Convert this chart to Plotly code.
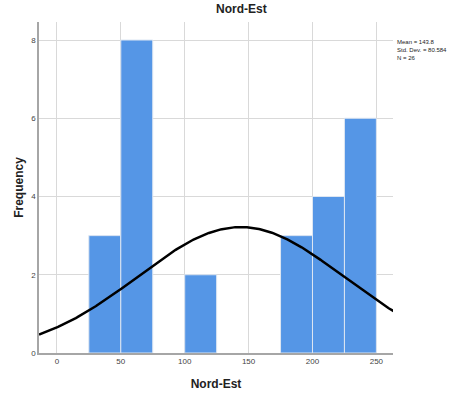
import numpy as np
import plotly.graph_objects as go

bin_starts = [25, 50, 100, 175, 200, 225]
bin_width = 25
counts = [3, 8, 2, 3, 4, 6]
mean_val = 143.8
std_val = 80.584
n_val = 26
x_ticks = [0, 50, 100, 150, 200, 250]
y_ticks = [0, 2, 4, 6, 8]

centers = [s + bin_width / 2 for s in bin_starts]

xs = np.linspace(-14, 264, 300)
ys = n_val * bin_width / (std_val * np.sqrt(2 * np.pi)) * np.exp(-0.5 * ((xs - mean_val) / std_val) ** 2)

fig = go.Figure()
fig.add_trace(go.Bar(x=centers, y=counts, width=[bin_width] * len(counts),
                     marker=dict(color="#5596E6", line=dict(color="#DDE6F2", width=1))))
fig.add_trace(go.Scatter(x=xs, y=ys, mode="lines", line=dict(color="black", width=2.5)))

fig.update_layout(
    width=454, height=400,
    margin=dict(l=39, r=61, t=22, b=47),
    paper_bgcolor="white", plot_bgcolor="white",
    showlegend=False,
    font=dict(family="Liberation Sans, Arial, sans-serif"),
    annotations=[
        dict(text="<b>Nord-Est</b>", x=0.573, y=1.0, xref="paper", yref="paper",
             xanchor="center", yanchor="bottom", yshift=4, showarrow=False,
             font=dict(size=12, color="#222")),
        dict(text=f"Mean = {mean_val}<br>Std. Dev. = {std_val}<br>N = {n_val}",
             x=1.0, y=0.955, xref="paper", yref="paper", xanchor="left", yanchor="top",
             xshift=2, showarrow=False, align="left",
             font=dict(size=6, color="#222")),
    ],
)
fig.update_xaxes(range=[-14, 263], tickvals=x_ticks, showgrid=True, gridcolor="#D9D9D9",
                 showline=True, linecolor="#A6A6A6", linewidth=1.5, zeroline=False,
                 tickfont=dict(size=8, color="#444"), ticks="",
                 title=dict(text="<b>Nord-Est</b>", font=dict(size=12, color="#222"), standoff=14))
fig.update_yaxes(range=[0, 8.46], tickvals=y_ticks, showgrid=True, gridcolor="#D9D9D9",
                 showline=True, linecolor="#A6A6A6", linewidth=1.5, zeroline=False,
                 tickfont=dict(size=8, color="#444"), ticks="",
                 title=dict(text="<b>Frequency</b>", font=dict(size=12, color="#222"), standoff=5))

fig.write_html("out.html")
